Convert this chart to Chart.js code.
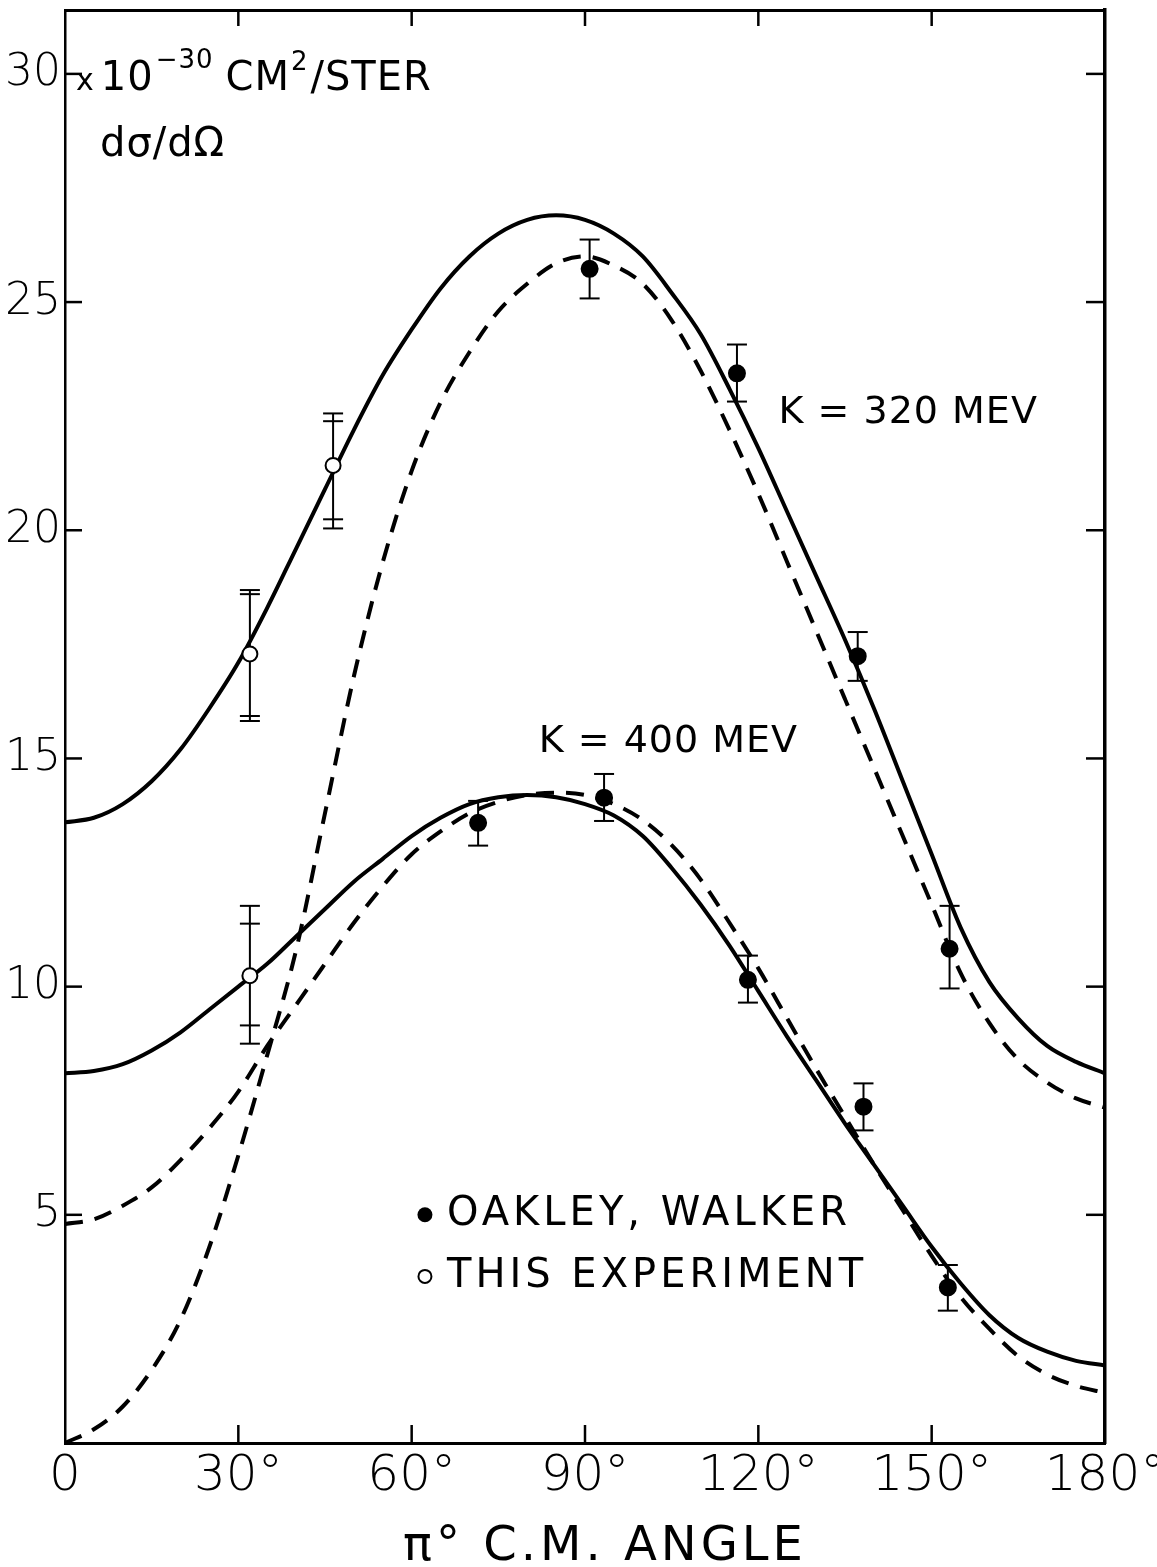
<!DOCTYPE html>
<html>
<head>
<meta charset="utf-8">
<script src="https://cdn.jsdelivr.net/npm/chart.js@4.4.1/dist/chart.umd.min.js"></script>
<style>
  html, body { margin: 0; padding: 0; background: #fff; }
  #wrap { width: 1157px; height: 1567px; position: relative; }
</style>
</head>
<body>
<div id="wrap"><canvas id="c" width="1157" height="1567"></canvas></div>
<script>
// Angles (degrees, c.m.) at which the theoretical curves are tabulated
const angles = [0,5,10,15,20,25,30,35,40,45,50,55,60,65,70,75,80,85,90,
                95,100,105,110,115,120,125,130,135,140,145,150,155,160,165,170,175,180];

// K = 320 MeV curves (units of 1e-30 cm^2/sr)
const k320Solid = [13.6,13.7,14.0,14.5,15.2,16.1,17.1,18.3,19.6,20.9,22.2,23.4,24.4,25.3,26.0,26.5,26.8,26.9,26.8,
                   26.5,26.0,25.2,24.3,23.1,21.8,20.4,19.0,17.6,16.1,14.5,12.9,11.3,10.1,9.3,8.7,8.35,8.1];
const k320Dashed = [0,0.3,0.8,1.6,2.7,4.3,6.3,8.5,10.8,13.8,16.8,19.3,21.3,22.8,23.9,24.8,25.4,25.85,26.0,
                    25.8,25.4,24.6,23.5,22.2,20.8,19.3,17.8,16.3,14.8,13.3,11.8,10.3,9.2,8.4,7.9,7.55,7.35];

// K = 400 MeV curves
const k400Solid = [8.1,8.15,8.3,8.6,9.0,9.5,10.0,10.5,11.1,11.7,12.3,12.8,13.3,13.7,14.0,14.15,14.2,14.15,14.0,
                   13.75,13.3,12.6,11.8,10.9,9.9,8.9,7.95,7.0,6.1,5.2,4.3,3.5,2.8,2.3,2.0,1.8,1.7];
const k400Dashed = [4.8,4.9,5.2,5.6,6.2,6.9,7.7,8.7,9.6,10.5,11.4,12.2,12.9,13.4,13.8,14.05,14.2,14.25,14.2,
                    14.0,13.65,13.1,12.35,11.4,10.4,9.3,8.2,7.15,6.1,5.1,4.1,3.2,2.5,1.9,1.5,1.25,1.1];

// Oakley, Walker measurements (filled circles)
const owAngle320 = [90.8, 116.3, 137.2, 153.1];
const owValue320 = [25.73, 23.44, 17.24, 10.83];
const owLow320   = [25.08, 22.82, 16.70, 9.96];
const owHigh320  = [26.37, 24.07, 17.77, 11.77];

const owAngle400 = [71.5, 93.3, 118.2, 138.2, 152.8];
const owValue400 = [13.59, 14.14, 10.15, 7.37, 3.41];
const owLow400   = [13.09, 13.63, 9.65, 6.85, 2.90];
const owHigh400  = [14.07, 14.66, 10.68, 7.88, 3.90];

// This experiment (open circles), two error estimates each
const expAngle     = [32.0, 46.4, 32.0];
const expValue     = [17.29, 21.42, 10.24];
const expLowOuter  = [15.82, 20.04, 8.75];
const expLowInner  = [15.93, 20.24, 9.15];
const expHighInner = [18.60, 22.39, 11.38];
const expHighOuter = [18.69, 22.56, 11.77];

// Axis ticks
const xTickValues = [0, 30, 60, 90, 120, 150, 180];
const xTickLabels = ['0', '30°', '60°', '90°', '120°', '150°', '180°'];
const yTickValues = [5, 10, 15, 20, 25, 30];
const yTickLabels = ['5', '10', '15', '20', '25', '30'];
const xTitle = 'π° C.M. ANGLE';

const FONT = '"DejaVu Sans", sans-serif';

const toXY = (xs, ys) => xs.map((x, i) => ({ x, y: ys[i] }));

// Error bars drawn beneath the markers
const errorBars = {
  id: 'errorBars',
  beforeDatasetsDraw(chart) {
    const { ctx, scales: { x, y } } = chart;
    ctx.save();
    ctx.strokeStyle = '#000';
    ctx.lineWidth = 2;
    const seg = (x1, y1, x2, y2) => { ctx.beginPath(); ctx.moveTo(x1, y1); ctx.lineTo(x2, y2); ctx.stroke(); };
    const bar = (a, lo, hi, caps) => {
      const px = x.getPixelForValue(a);
      seg(px, y.getPixelForValue(lo), px, y.getPixelForValue(hi));
      caps.forEach(c => { const py = y.getPixelForValue(c); seg(px - 10, py, px + 10, py); });
    };
    owAngle320.forEach((a, i) => bar(a, owLow320[i], owHigh320[i], [owLow320[i], owHigh320[i]]));
    owAngle400.forEach((a, i) => bar(a, owLow400[i], owHigh400[i], [owLow400[i], owHigh400[i]]));
    expAngle.forEach((a, i) => bar(a, expLowOuter[i], expHighOuter[i],
      [expLowOuter[i], expLowInner[i], expHighInner[i], expHighOuter[i]]));
    ctx.restore();
  }
};

// Inward tick marks on all four sides of the frame
const frameTicks = {
  id: 'frameTicks',
  afterDraw(chart) {
    const { ctx, chartArea: a, scales: { x, y } } = chart;
    ctx.save();
    ctx.strokeStyle = '#000';
    ctx.lineWidth = 2.5;
    const seg = (x1, y1, x2, y2) => { ctx.beginPath(); ctx.moveTo(x1, y1); ctx.lineTo(x2, y2); ctx.stroke(); };
    yTickValues.forEach(v => {
      const py = y.getPixelForValue(v);
      seg(a.left, py, a.left + 17, py);
      seg(a.right, py, a.right - 19, py);
    });
    xTickValues.forEach(v => {
      if (v <= x.min || v >= x.max) return;
      const px = x.getPixelForValue(v);
      seg(px, a.bottom, px, a.bottom - 18);
      seg(px, a.top, px, a.top + 16);
    });
    ctx.restore();
  }
};

// Axis title, unit label, curve labels and the key
const annotations = {
  id: 'annotations',
  afterDraw(chart) {
    const { ctx, chartArea: area, scales: { x, y } } = chart;
    ctx.save();
    ctx.fillStyle = '#000';
    ctx.textBaseline = 'alphabetic';
    ctx.textAlign = 'left';

    // x-axis title
    ctx.letterSpacing = '4px';
    ctx.font = `48px ${FONT}`;
    const tw = ctx.measureText(xTitle).width;
    ctx.fillText(xTitle, (area.left + area.right) / 2 - tw / 2 + 20, 1560);

    // unit: x10^-30 CM^2/STER
    let cx = 76;
    const base = 90;
    const piece = (t, size, dy, gap) => {
      ctx.font = `${size}px ${FONT}`;
      ctx.fillText(t, cx, base + dy);
      cx += ctx.measureText(t).width + (gap || 0);
    };
    ctx.letterSpacing = '1px';
    piece('x', 30, 0, 6);
    piece('10', 40, 0, 2);
    piece('−30', 26, -22, 12);
    piece('CM', 40, 0, 1);
    piece('2', 26, -20, 2);
    piece('/STER', 40, 0, 0);

    ctx.font = `40px ${FONT}`;
    ctx.fillText('dσ/dΩ', 100, 156);

    ctx.letterSpacing = '1px';
    ctx.font = `38px ${FONT}`;
    ctx.fillText('K = 320 MEV', x.getPixelForValue(123.5), y.getPixelForValue(22.35));
    ctx.fillText('K = 400 MEV', x.getPixelForValue(82), y.getPixelForValue(15.15));

    // key
    ctx.letterSpacing = '4px';
    ctx.font = `40px ${FONT}`;
    const kx = x.getPixelForValue(62.3);
    const ky1 = y.getPixelForValue(5.0);
    const ky2 = y.getPixelForValue(3.65);
    ctx.beginPath(); ctx.arc(kx, ky1, 7.5, 0, Math.PI * 2); ctx.fill();
    ctx.beginPath(); ctx.arc(kx, ky2, 6.5, 0, Math.PI * 2);
    ctx.lineWidth = 2; ctx.strokeStyle = '#000'; ctx.stroke();
    ctx.textBaseline = 'middle';
    ctx.fillText('OAKLEY, WALKER', kx + 22, ky1);
    ctx.fillText('THIS EXPERIMENT', kx + 22, ky2);
    ctx.restore();
  }
};

const lineDs = (data, dashed) => ({
  type: 'line',
  data: toXY(angles, data),
  borderColor: '#000',
  borderWidth: 4,
  borderDash: dashed ? [18, 12] : [],
  pointRadius: 0,
  fill: false,
  cubicInterpolationMode: 'monotone',
  order: 5
});

const markerDs = (xs, ys, filled) => ({
  type: 'scatter',
  data: toXY(xs, ys),
  showLine: false,
  pointStyle: 'circle',
  pointRadius: filled ? 8 : 7.5,
  pointBorderWidth: 2,
  pointBackgroundColor: filled ? '#000' : '#fff',
  pointBorderColor: '#000',
  order: 1
});

// Fixed frame: no automatic label overflow padding
const noPadV = s => { s.paddingTop = 0; s.paddingBottom = 0; };
const noPadH = s => { s.paddingLeft = 0; s.paddingRight = 0; };

new Chart(document.getElementById('c'), {
  type: 'line',
  data: {
    datasets: [
      markerDs(owAngle320, owValue320, true),
      markerDs(owAngle400, owValue400, true),
      markerDs(expAngle, expValue, false),
      lineDs(k320Solid, false),
      lineDs(k320Dashed, true),
      lineDs(k400Solid, false),
      lineDs(k400Dashed, true)
    ]
  },
  options: {
    responsive: false,
    animation: false,
    events: [],
    layout: { padding: { top: 9, left: 0, right: 0, bottom: 0 } },
    plugins: { legend: { display: false }, tooltip: { enabled: false } },
    scales: {
      x: {
        type: 'linear', position: 'bottom', min: 0, max: 180,
        afterBuildTicks: s => { s.ticks = xTickValues.map(v => ({ value: v })); },
        ticks: {
          callback: (v, i) => xTickLabels[i],
          font: { family: FONT, size: 50, weight: '200' },
          color: '#000', padding: 4, maxRotation: 0, autoSkip: false
        },
        grid: { display: false, drawTicks: false },
        border: { display: true, color: '#000', width: 3 },
        afterFit: s => { s.height = 124; noPadH(s); }
      },
      xTop: {
        type: 'linear', position: 'top', min: 0, max: 180,
        ticks: { display: false },
        grid: { display: false, drawTicks: false },
        border: { display: true, color: '#000', width: 3 },
        afterFit: s => { s.height = 0; noPadH(s); }
      },
      y: {
        type: 'linear', position: 'left', min: 0, max: 31.4,
        afterBuildTicks: s => { s.ticks = yTickValues.map(v => ({ value: v })); },
        ticks: {
          callback: (v, i) => yTickLabels[i],
          font: { family: FONT, size: 44, weight: '200' },
          color: '#000', padding: 4
        },
        grid: { display: false, drawTicks: false },
        border: { display: true, color: '#000', width: 2.5 },
        afterFit: s => { s.width = 65; noPadV(s); }
      },
      yRight: {
        type: 'linear', position: 'right', min: 0, max: 31.4,
        ticks: { display: false },
        grid: { display: false, drawTicks: false },
        border: { display: true, color: '#000', width: 3.5 },
        afterFit: s => { s.width = 52; noPadV(s); }
      }
    }
  },
  plugins: [errorBars, frameTicks, annotations]
});
</script>
</body>
</html>
